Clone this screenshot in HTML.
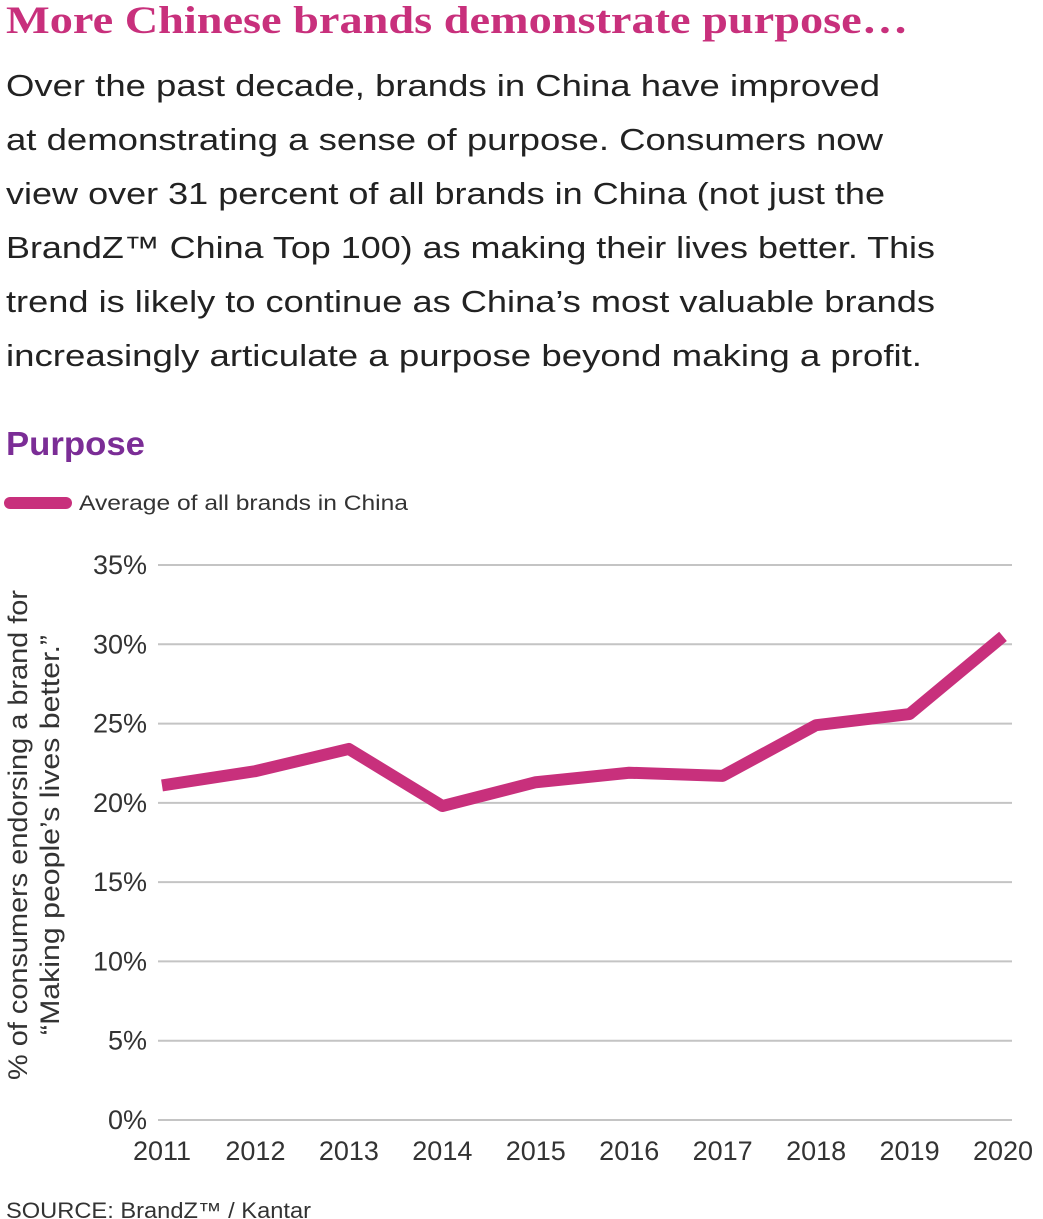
<!DOCTYPE html>
<html><head><meta charset="utf-8"><style>
html,body{margin:0;padding:0;background:#fff;}
svg{display:block;font-family:"Liberation Sans",sans-serif;}
</style></head><body>
<svg id="chart" width="1043" height="1219" viewBox="0 0 1043 1219">
<text x="6" y="33" font-family="Liberation Serif,serif" font-weight="bold" font-size="39" fill="#c8307c" textLength="902" lengthAdjust="spacingAndGlyphs">More Chinese brands demonstrate purpose…</text>
<g font-size="31" fill="#222">
<text x="6" y="96" textLength="874" lengthAdjust="spacingAndGlyphs">Over the past decade, brands in China have improved</text>
<text x="6" y="150" textLength="877" lengthAdjust="spacingAndGlyphs">at demonstrating a sense of purpose. Consumers now</text>
<text x="6" y="204" textLength="879" lengthAdjust="spacingAndGlyphs">view over 31 percent of all brands in China (not just the</text>
<text x="6" y="258" textLength="929" lengthAdjust="spacingAndGlyphs">BrandZ™ China Top 100) as making their lives better. This</text>
<text x="6" y="312" textLength="929" lengthAdjust="spacingAndGlyphs">trend is likely to continue as China’s most valuable brands</text>
<text x="6" y="366" textLength="916" lengthAdjust="spacingAndGlyphs">increasingly articulate a purpose beyond making a profit.</text>
</g>
<text x="6" y="455" font-size="33" font-weight="bold" fill="#7b2d96" textLength="139" lengthAdjust="spacingAndGlyphs">Purpose</text>
<g>
<line x1="10" y1="503" x2="66" y2="503" stroke="#c8307c" stroke-width="12" stroke-linecap="round"/>
<text x="79" y="510" font-size="21" fill="#333" textLength="329" lengthAdjust="spacingAndGlyphs">Average of all brands in China</text>
</g>
<g fill="#333" font-size="27">
<text transform="translate(27,835) rotate(-90)" text-anchor="middle" textLength="490" lengthAdjust="spacingAndGlyphs">% of consumers endorsing a brand for</text>
<text transform="translate(59,835) rotate(-90)" text-anchor="middle" textLength="400" lengthAdjust="spacingAndGlyphs">“Making people’s lives better.”</text>
</g>
<g id="grid"></g><g id="yt"></g><g id="xt"></g><g id="series"></g>
<text x="6" y="1218" font-size="22" fill="#333" textLength="305" lengthAdjust="spacingAndGlyphs">SOURCE: BrandZ™ / Kantar</text>
</svg>
<script>
const years = ['2011','2012','2013','2014','2015','2016','2017','2018','2019','2020'];
const purposeValues = [21.1, 22.0, 23.4, 19.8, 21.3, 21.9, 21.7, 24.9, 25.6, 30.5];
const yTicks = [0,5,10,15,20,25,30,35];
const yTickLabels = ['0%','5%','10%','15%','20%','25%','30%','35%'];
const NS='http://www.w3.org/2000/svg';
const x0=162,x1=1003,yBase=1120,yTop=565;
const xs=i=>x0+i*(x1-x0)/(years.length-1);
const ys=v=>yBase-(v/35)*(yBase-yTop);
function mk(t,a,p){const e=document.createElementNS(NS,t);for(const k in a)e.setAttribute(k,a[k]);p.appendChild(e);return e;}
const grid=document.getElementById('grid'),yt=document.getElementById('yt'),xt=document.getElementById('xt'),ser=document.getElementById('series');
yTicks.forEach((v,i)=>{
 const l=mk('line',{x1:158,x2:1012,y1:ys(v),y2:ys(v),stroke:'#c4c4c4','stroke-width':2},grid);
 
 
 const t=mk('text',{x:147,y:ys(v)+9,'text-anchor':'end','font-size':27,fill:'#333'},yt);
 t.textContent=yTickLabels[i];
 
 
});
years.forEach((y,i)=>{
 const t=mk('text',{x:xs(i),y:1160,'text-anchor':'middle','font-size':27,fill:'#333'},xt);
 t.textContent=y;
 
 
});
const p=mk('polyline',{points:purposeValues.map((v,i)=>xs(i)+','+ys(v)).join(' '),fill:'none',stroke:'#c8307c','stroke-width':12,'stroke-linejoin':'round','stroke-linecap':'butt'},ser);


</script>
</body></html>
